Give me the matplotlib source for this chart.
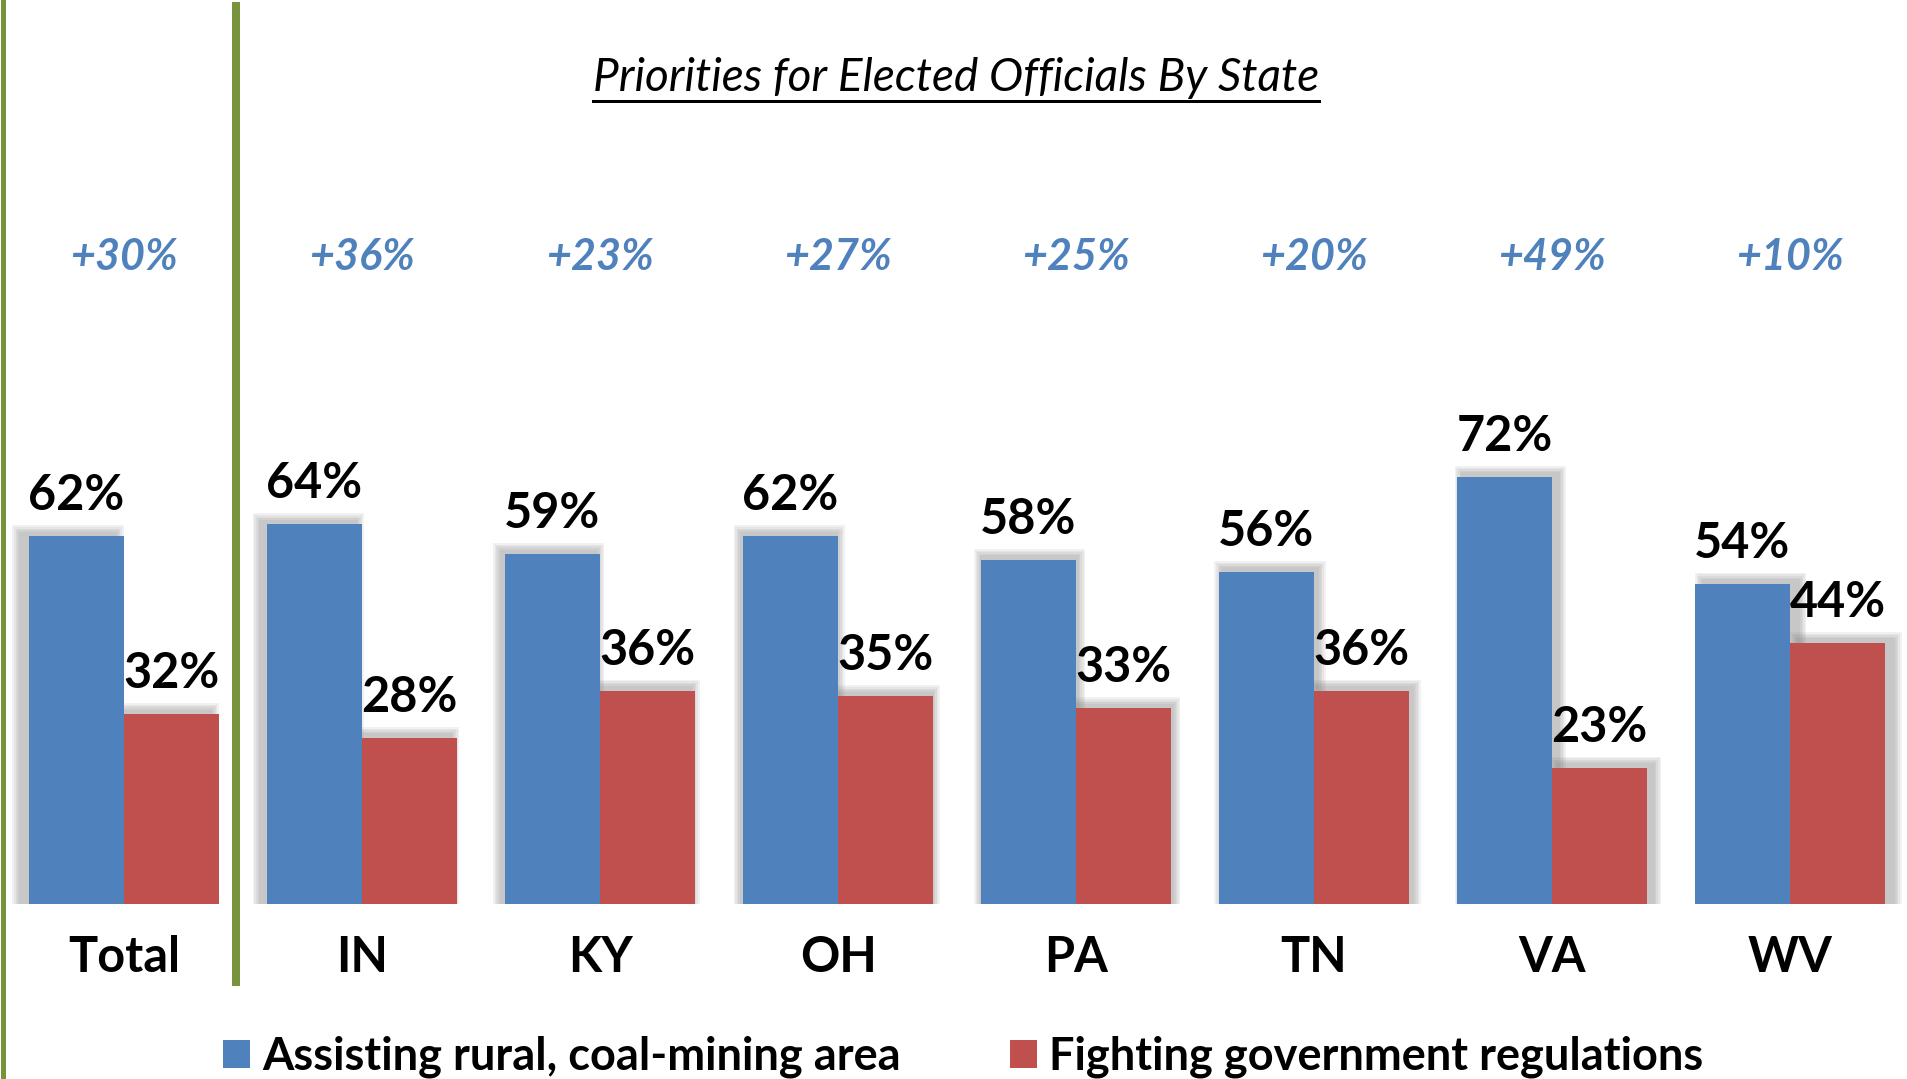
import matplotlib
matplotlib.use("Agg")
import matplotlib.pyplot as plt
from matplotlib.lines import Line2D
from matplotlib.patches import Rectangle
from matplotlib.transforms import blended_transform_factory
import numpy as np

categories = ["Total", "IN", "KY", "OH", "PA", "TN", "VA", "WV"]
assisting = [62, 64, 59, 62, 58, 56, 72, 54]
fighting = [32, 28, 36, 35, 33, 36, 23, 44]
series_names = ["Assisting rural, coal-mining area", "Fighting government regulations"]
title = "Priorities for Elected Officials By State"

BLUE = "#4F81BD"
RED = "#C0504D"
GREEN = "#77933C"
FONT = "Lato"

W, H = 1907, 1079
fig = plt.figure(figsize=(W / 100, H / 100), dpi=100)
plt.rcParams["font.family"] = [FONT, "DejaVu Sans"]

base_px = 904
px_per_pct = 5.93
ax = fig.add_axes([0, (H - base_px) / H, 1, base_px / H])
ax.set_xlim(-124 / 238, (W - 124) / 238)
ax.set_ylim(0, base_px / px_per_pct)
for s in ax.spines.values():
    s.set_visible(False)
ax.set_yticks([])

x = np.arange(len(categories))
bw = 0.4

# soft shadows (perspective-like: cast away from centre)
xpx = 1 / 238.0
ypx = 1 / px_per_pct
center = (len(categories) - 1) / 2
for vals, off in ((assisting, -bw / 2), (fighting, bw / 2)):
    for xi, v in zip(x, vals):
        dx = (xi - center) * 2.4 * xpx
        for k in range(5):
            e = (5 - k) * 1.6
            r = Rectangle((xi + off - bw / 2 + dx - e * xpx, 0),
                          bw + 2 * e * xpx, v + (3 + e) * ypx,
                          facecolor="#7f7f7f", edgecolor="none",
                          alpha=0.10, zorder=1)
            ax.add_patch(r)

b1 = ax.bar(x - bw / 2, assisting, bw, color=BLUE, zorder=3, label=series_names[0])
b2 = ax.bar(x + bw / 2, fighting, bw, color=RED, zorder=3, label=series_names[1])

for bars, vals in ((b1, assisting), (b2, fighting)):
    for rect, v in zip(bars, vals):
        ax.annotate(f"{v}%", (rect.get_x() + rect.get_width() / 2, v),
                    xytext=(0, 26 * 0.72), textcoords="offset points",
                    ha="center", va="baseline", fontsize=35,
                    fontweight="bold", color="black", zorder=5)

ax.set_xticks(x, categories)
ax.tick_params(axis="x", length=0, pad=22, labelsize=35)
for lab in ax.get_xticklabels():
    lab.set_fontweight("bold")

# difference annotations
tr = blended_transform_factory(ax.transData, fig.transFigure)
for xi, a, f in zip(x, assisting, fighting):
    ax.text(xi, 1 - 270 / H, f"+{a - f}%", transform=tr, ha="center",
            va="baseline", fontsize=31, fontweight="bold", style="italic",
            color=BLUE)

# title with underline
t = fig.text(956 / W, 1 - 91 / H, title, ha="center", va="baseline",
             fontsize=33, style="italic", color="black")
fig.canvas.draw()
bb = t.get_window_extent(fig.canvas.get_renderer())
fig.add_artist(Line2D([bb.x0 / W, bb.x1 / W], [1 - 101 / H, 1 - 101 / H],
                      color="black", lw=3 * 0.72, transform=fig.transFigure))

# green separators
fig.add_artist(Line2D([2.5 / W, 2.5 / W], [0, 1], color=GREEN, lw=5 * 0.72,
                      transform=fig.transFigure))
fig.add_artist(Line2D([236 / W, 236 / W], [1 - 6 / H, 1 - 982 / H], color=GREEN,
                      lw=8 * 0.72, transform=fig.transFigure))

fs_leg = 32.5
fig.legend(handles=[b1, b2], labels=series_names, loc="center left",
           bbox_to_anchor=(223 / W, 1 - 1057 / H), ncol=2, frameon=False,
           prop={"family": FONT, "weight": "bold", "size": fs_leg},
           handlelength=0.6, handleheight=0.6, handletextpad=0.27,
           columnspacing=2.42, borderpad=0, borderaxespad=0)

fig.savefig("out.png", dpi=100)
